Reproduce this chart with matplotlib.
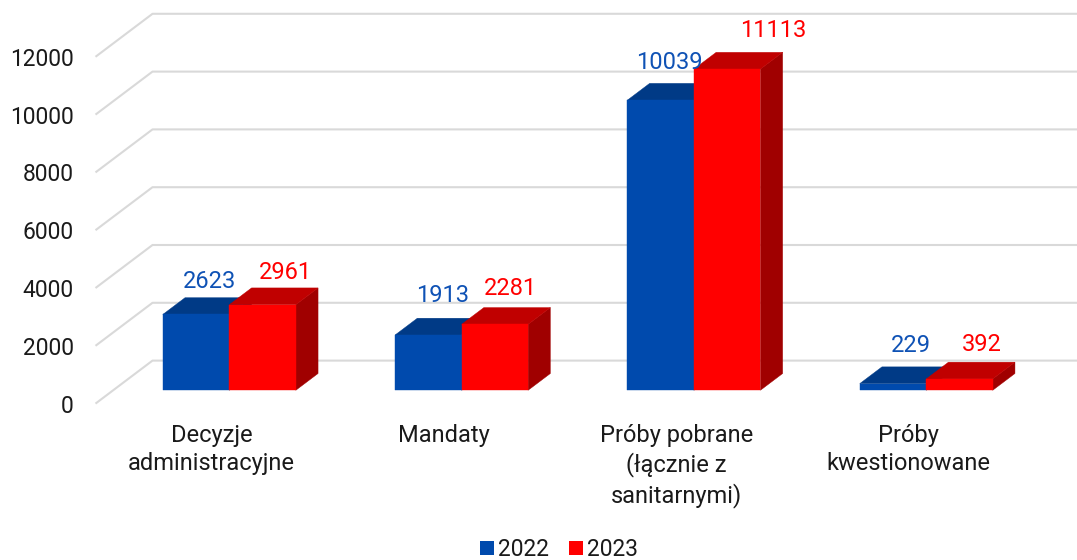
import matplotlib
matplotlib.use("Agg")
import matplotlib.pyplot as plt
from matplotlib.patches import Patch, Polygon

categories = ["Decyzje\nadministracyjne", "Mandaty", "Próby pobrane\n(łącznie z\nsanitarnymi)", "Próby\nkwestionowane"]
years = ["2022", "2023"]
values_2022 = [2623, 1913, 10039, 229]
values_2023 = [2961, 2281, 11113, 392]
y_ticks = [0, 2000, 4000, 6000, 8000, 10000, 12000]

plt.rcParams["font.family"] = ["Roboto", "DejaVu Sans"]
W, H = 1077, 560
FS = 17
fig = plt.figure(figsize=(W / 100, H / 100), dpi=100)
PX_CAT = 232.3
PX_VAL = 0.0289
L, B = 95.5, 403.6
ax = fig.add_axes([L / W, (H - B) / H, 4 * PX_CAT / W, 12000 * PX_VAL / H])
ax.set_xlim(-0.5, 3.5)
ax.set_ylim(0, 12000)
for s in ax.spines.values():
    s.set_visible(False)
ax.patch.set_visible(False)

DX = 57 / PX_CAT      # full floor depth, category units
DY = 43 / PX_VAL      # full floor depth, value units
D0, D1 = 0.31, 0.70   # bar depth span
BW = 66.5 / PX_CAT    # bar width


def proj(x, y, d):
    return (x + d * DX, y + d * DY)


GRID = "#D9D9D9"
for t in y_ticks:
    xs = [-0.5, -0.5 + DX, 3.5 + DX + 0.2]
    ys = [t, t + DY, t + DY]
    ax.plot(xs, ys, color=GRID, lw=1.5, clip_on=False, zorder=1, solid_capstyle="butt")

styles = [("#004AAD", "#003A86", "#002F6C"), ("#FF0000", "#C00000", "#A00000")]
label_colors = ["#0F52B5", "#FF0000"]
# hand-placed label offsets from the front-top bar centre, in pixels
label_dx = [[13, 14, 9, 18], [23, 16, 46, 22]]
label_dy = [[33, 39, 38, 38], [32, 36, 39, 34]]

for i in range(len(categories)):
    for j, vals in enumerate([values_2022, values_2023]):
        v = vals[i]
        x0 = i - BW + j * BW
        x1 = x0 + BW
        front, top, side = styles[j]
        z = 3 + j
        ax.add_patch(Polygon([proj(x1, 0, D0), proj(x1, 0, D1), proj(x1, v, D1), proj(x1, v, D0)],
                             fc=side, ec=side, lw=0.3, clip_on=False, zorder=z))
        ax.add_patch(Polygon([proj(x0, v, D0), proj(x1, v, D0), proj(x1, v, D1), proj(x0, v, D1)],
                             fc=top, ec=top, lw=0.3, clip_on=False, zorder=z))
        ax.add_patch(Polygon([proj(x0, 0, D0), proj(x1, 0, D0), proj(x1, v, D0), proj(x0, v, D0)],
                             fc=front, ec=front, lw=0.3, clip_on=False, zorder=z))
        cx, cy = proj((x0 + x1) / 2, v, D0)
        ax.annotate(str(v), (cx, cy), xytext=(label_dx[j][i] * 0.72, label_dy[j][i] * 0.72),
                    textcoords="offset points", ha="center", va="center",
                    color=label_colors[j], fontsize=FS, zorder=10, annotation_clip=False)

ax.set_yticks(y_ticks)
ax.set_yticklabels([str(t) for t in y_ticks], fontsize=16.4, color="#1A1A1A")
ax.set_xticks(range(len(categories)))
ax.set_xticklabels(categories, fontsize=FS, color="#1A1A1A", linespacing=1.3)
ax.tick_params(axis="y", length=0, pad=15.5)
ax.tick_params(axis="x", length=0, pad=14.5)

handles = [Patch(fc=styles[0][0], ec="none", label=years[0]),
           Patch(fc=styles[1][0], ec="none", label=years[1])]
fig.legend(handles=handles, loc="center", bbox_to_anchor=(559 / W, (H - 549.5) / H), ncol=2,
           frameon=False, fontsize=16.4, handlelength=0.62, handleheight=0.62,
           handletextpad=0.2, columnspacing=0.85, labelcolor="#1A1A1A", borderpad=0, borderaxespad=0)

fig.savefig("out.png", dpi=100, facecolor="white")
